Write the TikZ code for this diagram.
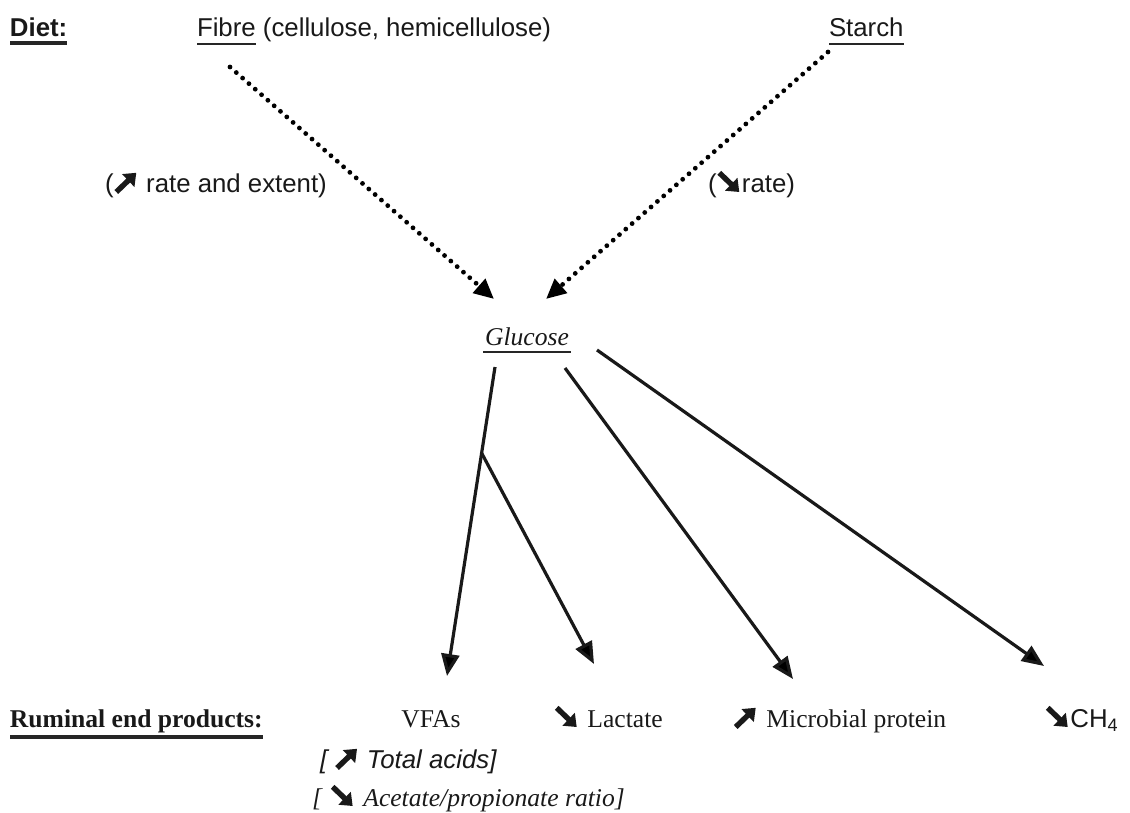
\documentclass[tikz,border=0pt]{standalone}
\usepackage{fontspec}
\setmainfont{Liberation Serif}
\setsansfont{Liberation Sans}
\usetikzlibrary{arrows.meta}
\tikzset{glypharrow/.style={line width=2.7pt,draw=black!90,-{Triangle[length=5.6pt,width=8.6pt]}}}
\newcommand\NE{\tikz[baseline=0pt,x=1pt,y=1pt]\draw[glypharrow] (0,0) -- (10,9.6);}
\newcommand\SE{\tikz[baseline=0pt,x=1pt,y=1pt]\draw[glypharrow] (0,9.6) -- (10,0);}
\begin{document}
\begin{tikzpicture}[x=0.5pt,y=-0.5pt,
  txt/.style={inner sep=0pt,outer sep=0pt,anchor=base west,text=black!90,font=\fontsize{12.8}{15}\selectfont},
  stxt/.style={txt,font=\fontsize{12.9}{15}\selectfont\sffamily},
  uline/.style={line width=1pt,draw=black!85},
  ulbold/.style={line width=1.6pt,draw=black!85},
  dotarrow/.style={line width=2.4pt,line cap=round,dash pattern=on 0pt off 4.2pt,
    -{Triangle[length=10pt,width=9pt]}},
  solidarrow/.style={line width=1.6pt,draw=black!90,-{Triangle[length=11pt,width=9pt]}}]
\useasboundingbox (0,0) rectangle (1130,813);
% top row
\node[stxt] (diet) at (10,37) {\bfseries Diet:};
\draw[ulbold] ([yshift=-3pt]diet.base west) -- ([yshift=-3pt]diet.base east);
\node[stxt] (fibre) at (197,37) {Fibre};
\node[stxt,anchor=base west] (fibrerest) at (fibre.base east) {\ (cellulose, hemicellulose)};
\draw[uline] ([yshift=-3.5pt]fibre.base west) -- ([yshift=-3.5pt]fibre.base east);
\node[stxt] (starch) at (829,37) {Starch};
\draw[uline] ([yshift=-3.5pt]starch.base west) -- ([yshift=-3.5pt]starch.base east);
% rate labels
\node[stxt] (fl) at (105,192) {(\NE\ rate and extent)};
\node[stxt] (sl) at (708,192) {(\SE rate)};
% glucose
\node[txt,anchor=base] (glu) at (527,345) {\itshape Glucose};
\draw[uline] ([xshift=-1pt,yshift=-3.5pt]glu.base west) -- ([xshift=1pt,yshift=-3.5pt]glu.base east);
% bottom row
\node[txt] (rum) at (10,727) {\bfseries Ruminal end products:};
\draw[line width=2pt,draw=black!85] ([yshift=-5pt]rum.base west) -- ([yshift=-5pt]rum.base east);
\node[txt,anchor=base] (vfa) at (431,727) {VFAs};
\node[txt] (lac) at (554,727) {\SE\hspace{4pt}Lactate};
\node[txt] (mic) at (733,727) {\NE\hspace{4pt}Microbial protein};
\node[stxt] (ch4) at (1045,727) {\SE CH\textsubscript{4}};
\node[stxt] (tot) at (320,768) {\itshape [ \NE\ Total acids]};
\node[txt] (ace) at (312,806) {\itshape [\hspace{4pt}\SE\hspace{4pt}Acetate/propionate ratio]};
% connector points
\coordinate (f0) at (230,67);
\coordinate (s0) at (828,52);
\coordinate (gin1) at (494,299);
\coordinate (gin2) at (546,299);
\coordinate (g1) at (495,367);
\coordinate (br) at (481.6,453);
\coordinate (g2) at (565,368);
\coordinate (g3) at (597,350);
\coordinate (vfaT) at (447,676);
\coordinate (lacT) at (594,664);
\coordinate (micT) at (793,679);
\coordinate (ch4T) at (1044,666);
% connectors
\draw[dotarrow] (f0) -- (gin1);
\draw[dotarrow] (s0) -- (gin2);
\draw[solidarrow] (g1) -- (vfaT);
\draw[solidarrow] (br) -- (lacT);
\draw[solidarrow] (g2) -- (micT);
\draw[solidarrow] (g3) -- (ch4T);
\end{tikzpicture}
\end{document}
